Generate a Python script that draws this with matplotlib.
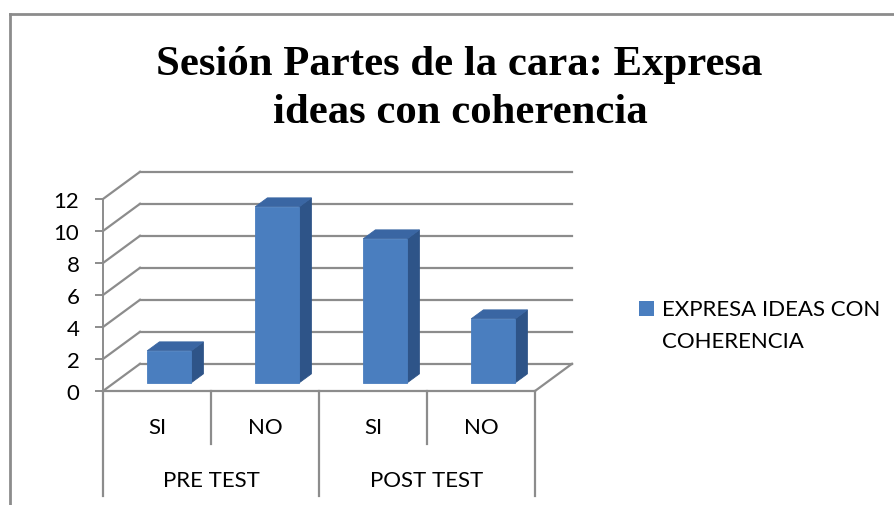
import matplotlib
matplotlib.use("Agg")
import matplotlib.pyplot as plt
from matplotlib.patches import Polygon, Rectangle
from matplotlib.lines import Line2D

# ---- data ----
groups = ["PRE TEST", "POST TEST"]
subcats = ["SI", "NO", "SI", "NO"]
values = [2, 11, 9, 4]
series_name = "EXPRESA IDEAS CON\nCOHERENCIA"
yticks = [0, 2, 4, 6, 8, 10, 12]
title_lines = ["Sesión Partes de la cara: Expresa", "ideas con coherencia"]

# ---- style ----
W, H = 894, 506
DPI = 100
grid_c = "#8c8c8c"
front_c = "#4A7EBF"
side_c = "#2E5488"
top_c = "#3A66A3"
font = ["Lato", "DejaVu Sans"]
fs = 16

fig = plt.figure(figsize=(W / DPI, H / DPI), dpi=DPI)
fig.patch.set_facecolor("white")

# pixel mapping for the axes: x in categories, y in values
px_per_cat = 108.0
px_per_unit = 16.0
x0_px, y0_px = 103.0, 392.0
xlim = (0, 4.5)
ylim = (-(497 - y0_px) / px_per_unit, (y0_px - 172) / px_per_unit)
left = x0_px / W
width = (xlim[1] - xlim[0]) * px_per_cat / W
bottom = (H - 497) / H
height = (ylim[1] - ylim[0]) * px_per_unit / H
ax = fig.add_axes([left, bottom, width, height])
ax.set_xlim(*xlim)
ax.set_ylim(*ylim)
ax.set_facecolor("none")
for s in ["top", "right", "bottom"]:
    ax.spines[s].set_visible(False)
ax.spines["left"].set_color(grid_c)
ax.spines["left"].set_linewidth(1.4)
ax.spines["left"].set_bounds(ylim[0], 12)
ax.set_xticks([])
ax.set_yticks(yticks)
ax.set_yticklabels([str(v) for v in yticks], fontsize=fs, family=font)
ax.tick_params(axis="y", length=6, width=1.4, color=grid_c, pad=11)

n = len(values)
dx, dy = 37 / px_per_cat, 1.7   # depth offset of the back wall
lw = 1.6

# back wall gridlines
for v in yticks:
    ax.add_line(Line2D([dx, n + dx], [v + dy, v + dy], color=grid_c, lw=lw, clip_on=False))
# side wall diagonals
for v in yticks:
    ax.add_line(Line2D([0, dx], [v, v + dy], color=grid_c, lw=lw, clip_on=False))
# floor front edge and right edge
ax.add_line(Line2D([0, n], [0, 0], color=grid_c, lw=lw, clip_on=False))
ax.add_line(Line2D([n, n + dx], [0, dy], color=grid_c, lw=lw, clip_on=False))

# bars
bw = 44 / px_per_cat
f1, f2 = 0.30, 0.63
for i, v in enumerate(values):
    xl = i + 0.5 - bw / 2 + 0.01
    xr = xl + bw
    a1x, a1y = f1 * dx, f1 * dy
    a2x, a2y = f2 * dx, f2 * dy
    side = [(xr + a1x, a1y), (xr + a2x, a2y), (xr + a2x, v + a2y), (xr + a1x, v + a1y)]
    top = [(xl + a1x, v + a1y), (xr + a1x, v + a1y), (xr + a2x, v + a2y), (xl + a2x, v + a2y)]
    front = [(xl + a1x, a1y), (xr + a1x, a1y), (xr + a1x, v + a1y), (xl + a1x, v + a1y)]
    for pts, c in [(side, side_c), (top, top_c), (front, front_c)]:
        ax.add_patch(Polygon(pts, closed=True, facecolor=c, edgecolor=c, lw=0.6, zorder=3))

# category table
sub_y = -2.25
grp_y = -5.55
sep_short = -(445 - y0_px) / px_per_unit
for k in range(n + 1):
    y_end = ylim[0] if k % 2 == 0 else sep_short
    ax.add_line(Line2D([k, k], [0, y_end], color=grid_c, lw=lw, clip_on=False))
for i, lab in enumerate(subcats):
    ax.text(i + 0.5, sub_y, lab, ha="center", va="center", fontsize=fs, family=font)
for g, lab in enumerate(groups):
    ax.text(2 * g + 1, grp_y, lab, ha="center", va="center", fontsize=fs, family=font)

# title
tfont = ["Liberation Serif", "DejaVu Serif"]
fig.text(459 / W, 1 - 75 / H, title_lines[0], ha="center", va="baseline",
         fontsize=30.8, fontweight="bold", family=tfont)
fig.text(460 / W, 1 - 123 / H, title_lines[1], ha="center", va="baseline",
         fontsize=30.8, fontweight="bold", family=tfont)

# legend
fig.patches.append(Rectangle((639 / W, 1 - 317 / H), 15 / W, 15 / H,
                             transform=fig.transFigure, facecolor=front_c, edgecolor="none"))
fig.text(662 / W, 1 - 310 / H, series_name.split("\n")[0], ha="left", va="center",
         fontsize=fs, family=font)
fig.text(662 / W, 1 - 342 / H, series_name.split("\n")[1], ha="left", va="center",
         fontsize=fs, family=font)

# chart border (top and left)
fig.add_artist(Line2D([10 / W, 1], [1 - 15 / H, 1 - 15 / H], transform=fig.transFigure,
                      color=grid_c, lw=2))
fig.add_artist(Line2D([10 / W, 10 / W], [0, 1 - 15 / H], transform=fig.transFigure,
                      color=grid_c, lw=2))

fig.savefig("out.png", dpi=DPI)
